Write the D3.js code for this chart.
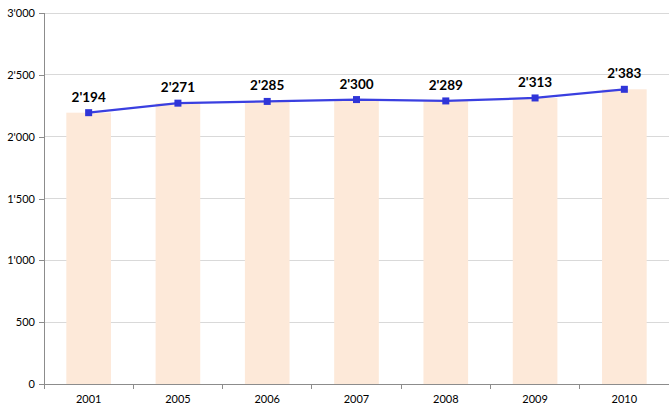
<!DOCTYPE html>
<html><head><meta charset="utf-8">
<script src="https://cdn.jsdelivr.net/npm/d3@7"></script>
<style>body{margin:0;background:#fff;}svg{display:block;font-family:Lato,"Open Sans",sans-serif;}</style>
</head><body><svg id="c" width="669" height="405"></svg>
<script>
const categories = ["2001","2005","2006","2007","2008","2009","2010"];
const barValues = [2194,2271,2285,2300,2289,2313,2383];
const lineValues = [2194,2271,2285,2300,2289,2313,2383];
const yTicks = [0,500,1000,1500,2000,2500,3000];

const svg = d3.select("#c");
const L = 44, R = 669, T = 13, B = 384;
const x = d3.scaleBand().domain(categories).range([L, R]);
const y = d3.scaleLinear().domain([0,3000]).range([B, T]);
const fmt = v => { const s = String(v); return s.length > 3 ? s.slice(0, s.length-3) + "'" + s.slice(-3) : s; };

// grid
svg.append("g").selectAll("line").data(yTicks.filter(d=>d>0)).join("line")
  .attr("x1", L).attr("x2", R).attr("y1", d=>y(d)).attr("y2", d=>y(d))
  .attr("stroke", "#d9d9d9").attr("stroke-width", 1).attr("shape-rendering","crispEdges");

// bars
const bw = x.bandwidth()*0.5;
svg.append("g").selectAll("rect").data(barValues).join("rect")
  .attr("x", (d,i)=>x(categories[i]) + (x.bandwidth()-bw)/2)
  .attr("width", bw)
  .attr("y", d=>y(d)).attr("height", d=>y(0)-y(d))
  .attr("fill", "#fde9d9");

// y axis
const ya = svg.append("g").attr("transform", `translate(${L},0)`)
  .call(d3.axisLeft(y).tickValues(yTicks).tickFormat(fmt).tickSize(5).tickPadding(4));
ya.select(".domain").attr("stroke", "#8c8c8c").attr("shape-rendering","crispEdges");
ya.selectAll(".tick line").attr("stroke", "#8c8c8c").attr("shape-rendering","crispEdges");
ya.selectAll("text").attr("font-size", 11).attr("fill", "#000").attr("font-family","Lato,'Open Sans',sans-serif");

// x axis
const xa = svg.append("g").attr("transform", `translate(0,${B})`)
  .call(d3.axisBottom(x).tickSize(0).tickPadding(11));
xa.select(".domain").attr("stroke", "#8c8c8c").attr("shape-rendering","crispEdges");
xa.selectAll("text").attr("font-size", 11).attr("fill", "#000").attr("font-family","Lato,'Open Sans',sans-serif");
// boundary ticks
const bounds = categories.map(c=>x(c)).concat([R]);
svg.append("g").selectAll("line").data(bounds).join("line")
  .attr("x1", d=>d).attr("x2", d=>d).attr("y1", B).attr("y2", B+5)
  .attr("stroke", "#8c8c8c").attr("shape-rendering","crispEdges");

// line
const cx = c => x(c) + x.bandwidth()/2;
const line = d3.line().x((d,i)=>cx(categories[i])).y(d=>y(d));
svg.append("path").datum(lineValues).attr("d", line)
  .attr("fill","none").attr("stroke","#3a3fe0").attr("stroke-width",2.2);
svg.append("g").selectAll("rect").data(lineValues).join("rect")
  .attr("x",(d,i)=>cx(categories[i])-3.5).attr("y",d=>y(d)-3.5)
  .attr("width",7).attr("height",7).attr("fill","#2f35d8");

// labels
svg.append("g").selectAll("text").data(lineValues).join("text")
  .attr("x",(d,i)=>cx(categories[i])).attr("y",d=>y(d)-11)
  .attr("text-anchor","middle").attr("font-size",13.5).attr("font-weight","bold")
  .attr("fill","#000").text(fmt);
</script></body></html>
